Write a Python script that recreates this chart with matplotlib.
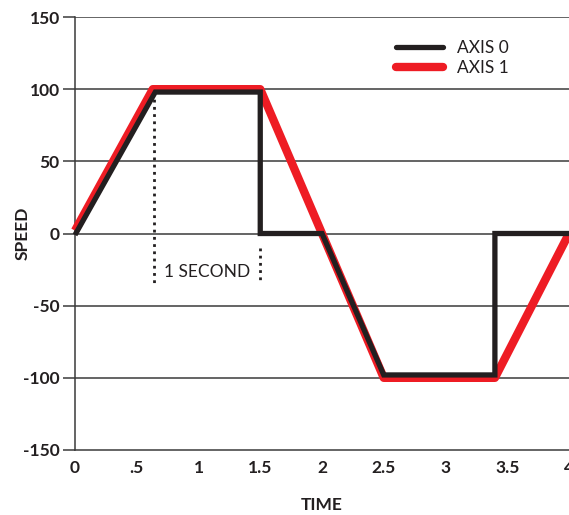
import matplotlib
matplotlib.use("Agg")
import matplotlib.pyplot as plt
from matplotlib.lines import Line2D

# data
black_t = [0, 0.65, 1.5, 1.5, 2.0, 2.5, 3.4, 3.4, 4.0]
black_v = [-1, 98, 98, 0, 0, -98, -98, 0, 0]
red_t = [0, 0.63, 1.5, 2.5, 3.4, 4.0]
red_v = [2, 100, 100, -100, -100, 0]
yticks = [-150, -100, -50, 0, 50, 100, 150]
xticks = [0, 0.5, 1, 1.5, 2, 2.5, 3, 3.5, 4]
xticklabels = ["0", ".5", "1", "1.5", "2", "2.5", "3", "3.5", "4"]
marker_t = [0.64, 1.5]
marker_top = [98, -10]
marker_bottom = -35
annot_text = "1 SECOND"
series_names = ["AXIS 0", "AXIS 1"]

plt.rcParams['font.family'] = ['Lato', 'DejaVu Sans']

fig = plt.figure(figsize=(5.69, 5.15), dpi=100)
ax = fig.add_axes([75/569, 65/515, 494/569, 433/515])

grid_c = "#3a3a3a"
for y in yticks[1:]:
    ax.axhline(y, color=grid_c, lw=1.1, zorder=1)

ax.plot(red_t, red_v, color="#ee1c24", lw=6.0, solid_joinstyle="round",
        solid_capstyle="butt", zorder=3, clip_on=False)
ax.plot(black_t, black_v, color="#231f20", lw=3.8, solid_joinstyle="miter",
        solid_capstyle="butt", zorder=4, clip_on=False)

for t, top in zip(marker_t, marker_top):
    ax.plot([t, t], [top, marker_bottom], color="#231f20", lw=2.0,
            linestyle=(0, (1.0, 1.6)), zorder=5)
ax.text((marker_t[0] + marker_t[1]) / 2, -27, annot_text, ha="center",
        va="center", fontsize=12.5, color="#231f20")

ax.set_xlim(0, 4)
ax.set_ylim(-150, 150)
ax.set_yticks(yticks)
ax.set_yticklabels([str(v) for v in yticks], fontsize=12.5, fontweight="bold",
                   color="#231f20")
ax.set_xticks(xticks)
ax.set_xticklabels(xticklabels, fontsize=12.5, fontweight="bold", color="#231f20")
ax.tick_params(axis="y", length=9, width=1.1, color=grid_c, pad=2)
ax.tick_params(axis="x", length=0, pad=7)

for s in ["right", "top"]:
    ax.spines[s].set_visible(False)
for s in ["left", "bottom"]:
    ax.spines[s].set_color(grid_c)
    ax.spines[s].set_linewidth(1.1)

ax.set_xlabel("TIME", fontsize=12.5, fontweight="bold", color="#231f20", labelpad=15)
ax.set_ylabel("SPEED", fontsize=12.5, fontweight="bold", color="#231f20")
ax.yaxis.set_label_coords(-0.09, 0.5)

handles = [Line2D([], [], color="#231f20", lw=3.8, solid_capstyle="round"),
           Line2D([], [], color="#ee1c24", lw=6.0, solid_capstyle="round")]
leg = ax.legend(handles, series_names, loc="upper left",
                bbox_to_anchor=(0.65, 0.946), frameon=False, fontsize=12.5,
                handlelength=2.7, handletextpad=0.8, labelspacing=0.2,
                borderaxespad=0, borderpad=0)
for t in leg.get_texts():
    t.set_color("#231f20")

fig.savefig("out.png", dpi=100)
